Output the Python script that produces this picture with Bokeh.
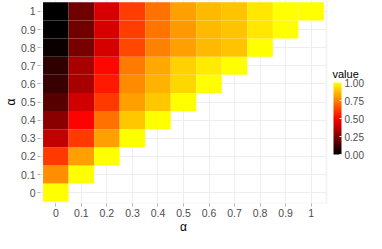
import numpy as np
from bokeh.plotting import figure
from bokeh.models import (ColumnDataSource, LinearColorMapper, ColorBar, FixedTicker,
                          PrintfTickFormatter, Range1d, BoxAnnotation, Label)
from bokeh.embed import file_html
from bokeh.resources import INLINE

# grid levels (both axes are alpha)
levels = [0, 0.1, 0.2, 0.3, 0.4, 0.5, 0.6, 0.7, 0.8, 0.9, 1]
tick_labels = ["0", "0.1", "0.2", "0.3", "0.4", "0.5", "0.6", "0.7", "0.8", "0.9", "1"]
x_title = "α"
y_title = "α"

# values per row (y level), for x = 0, 0.1, ... up to x = y
row_00 = [1.00]
row_01 = [0.78, 1.00]
row_02 = [0.61, 0.81, 1.00]
row_03 = [0.38, 0.61, 0.81, 1.00]
row_04 = [0.27, 0.50, 0.72, 0.89, 1.00]
row_05 = [0.17, 0.41, 0.61, 0.81, 0.89, 1.00]
row_06 = [0.11, 0.33, 0.55, 0.77, 0.85, 0.92, 1.00]
row_07 = [0.09, 0.33, 0.515, 0.74, 0.83, 0.91, 0.96, 1.00]
row_08 = [0.02, 0.235, 0.42, 0.64, 0.75, 0.81, 0.86, 0.88, 1.00]
row_09 = [0.00, 0.22, 0.42, 0.62, 0.73, 0.80, 0.86, 0.88, 0.95, 1.00]
row_10 = [0.00, 0.22, 0.42, 0.62, 0.72, 0.81, 0.86, 0.88, 0.95, 1.00, 1.00]
rows = [row_00, row_01, row_02, row_03, row_04, row_05, row_06, row_07, row_08, row_09, row_10]

legend_ticks = [0.0, 0.25, 0.5, 0.75, 1.0]
legend_title = "value"

xs, ys, vs = [], [], []
for yi, row in enumerate(rows):
    for xi, v in enumerate(row):
        xs.append(levels[xi]); ys.append(levels[yi]); vs.append(v)
src = ColumnDataSource(dict(x=xs, y=ys, v=vs))

# black -> red -> yellow palette
pal = []
for t in np.linspace(0, 1, 256):
    if t <= 0.5:
        r, g = t / 0.5, 0.0
    else:
        r, g = 1.0, (t - 0.5) / 0.5
    pal.append("#%02x%02x%02x" % (int(round(r * 255)), int(round(g * 255)), 0))
mapper = LinearColorMapper(palette=pal, low=0, high=1)

FONT = "Liberation Sans"
W, H = 366, 233
LEFT = 40
# panel (data) limits, and extra room on the right of the frame for the colour bar
PLO, PHI = -0.06, 1.06
panel_px = 286.0
x_end = PHI + (W - LEFT - panel_px) * (PHI - PLO) / panel_px

p = figure(width=W, height=H, output_backend="svg", toolbar_location=None,
           x_range=Range1d(PLO, x_end), y_range=Range1d(PLO, PHI),
           min_border_top=0, min_border_left=LEFT, min_border_bottom=0,
           min_border_right=0)
p.rect(x="x", y="y", width=0.1, height=0.1, source=src,
       fill_color={"field": "v", "transform": mapper}, line_color=None)

p.background_fill_color = "white"
p.border_fill_color = "white"
p.outline_line_color = None

for ax in (p.xaxis[0], p.yaxis[0]):
    ax.ticker = FixedTicker(ticks=levels)
    ax.bounds = (PLO, PHI)
    ax.major_label_overrides = {lv: lb for lv, lb in zip(levels, tick_labels)}
    ax.axis_line_color = None
    ax.major_tick_in = 0
    ax.major_tick_out = 3
    ax.major_tick_line_color = "#b3b3b3"
    ax.minor_tick_line_color = None
    ax.major_label_text_font = FONT
    ax.major_label_text_font_size = "10.5px"
    ax.major_label_text_color = "#4d4d4d"
    ax.major_label_standoff = 2
p.yaxis[0].major_label_orientation = "horizontal"
p.yaxis[0].axis_label = y_title
p.yaxis[0].axis_label_text_font = FONT
p.yaxis[0].axis_label_text_font_size = "12px"
p.yaxis[0].axis_label_text_font_style = "normal"
p.yaxis[0].axis_label_text_color = "black"
p.yaxis[0].axis_label_standoff = 0

for g in (p.xgrid[0], p.ygrid[0]):
    g.ticker = FixedTicker(ticks=levels)
    g.bounds = (PLO, PHI)
    g.cross_bounds = (PLO, PHI)
    g.grid_line_color = "#eeeeee"
    g.grid_line_width = 1

border = BoxAnnotation(left=PLO, right=PHI, bottom=PLO, top=PHI,
                       fill_color=None, line_color="#dcdcdc", line_width=2)
p.add_layout(border)

cb = ColorBar(color_mapper=mapper, ticker=FixedTicker(ticks=legend_ticks),
              formatter=PrintfTickFormatter(format="%.2f"),
              major_label_text_font=FONT, major_label_text_font_size="10px",
              major_label_text_color="#4d4d4d",
              width=8, height=72, padding=3, label_standoff=3,
              major_tick_line_color="white", major_tick_in=2, major_tick_out=0,
              bar_line_color=None, background_fill_color=None, border_line_color=None,
              location=(panel_px + 4, 46))
p.add_layout(cb)

p.add_layout(Label(x=panel_px + 6, y=46 + 3 + 72 + 3, x_units="screen", y_units="screen",
                   text=legend_title, text_font=FONT, text_font_size="11px",
                   text_color="black", text_baseline="bottom"))

p.add_layout(Label(x=panel_px / 2, y=0, x_units="screen", y_units="screen",
                   text=x_title, text_font=FONT, text_font_size="12px",
                   text_align="center", text_baseline="bottom", text_color="black"),
             "below")

open("out.html", "w").write(file_html(p, INLINE))
